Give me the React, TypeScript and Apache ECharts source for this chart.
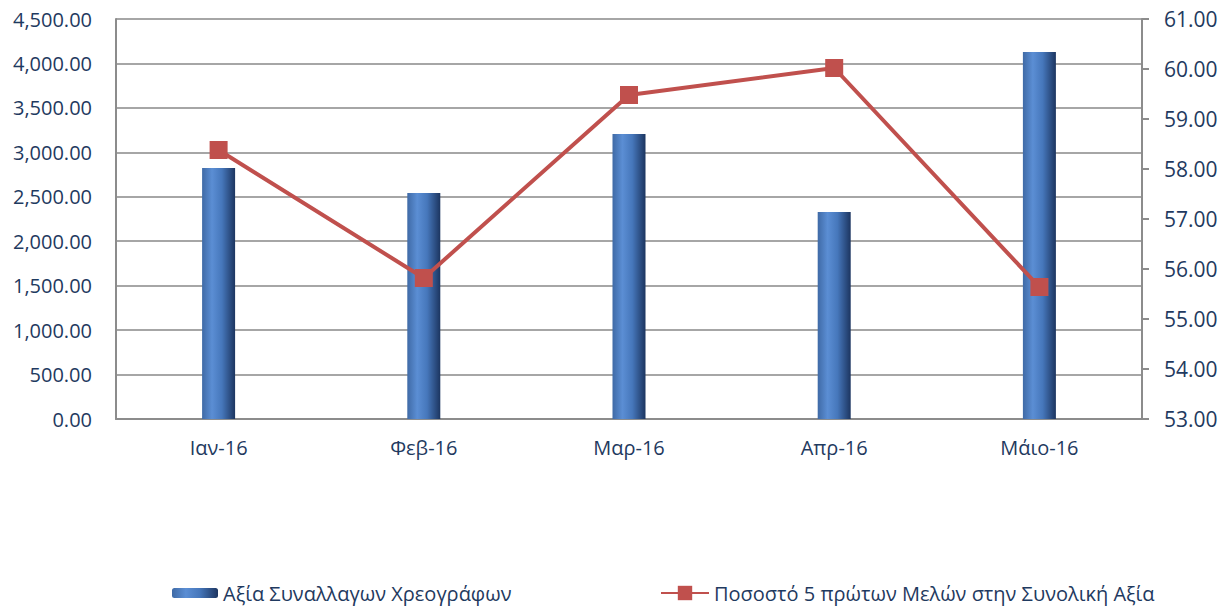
import React, { useEffect, useRef } from "react";
import * as echarts from "echarts";

const categories = ["Ιαν-16", "Φεβ-16", "Μαρ-16", "Απρ-16", "Μάιο-16"];
const barName = "Αξία Συναλλαγων Χρεογράφων";
const lineName = "Ποσοστό 5 πρώτων Μελών στην Συνολική Αξία";
const barValues = [2824, 2542, 3206, 2329, 4129];
const lineValues = [58.38, 55.82, 59.48, 60.02, 55.64];

const textColor = "#1F3A60";
const fontFamily = "'Open Sans', 'Noto Sans', sans-serif";

export default function App() {
  const ref = useRef<HTMLDivElement>(null);
  useEffect(() => {
    if (!ref.current) return;
    const chart = echarts.init(ref.current, undefined, { renderer: "svg" });
    const barGradient = new echarts.graphic.LinearGradient(0, 0, 1, 0, [
      { offset: 0, color: "#3f6aa6" },
      { offset: 0.3, color: "#5b8ed4" },
      { offset: 0.6, color: "#4677bb" },
      { offset: 1, color: "#1c3560" },
    ]);
    chart.setOption({
      animation: false,
      textStyle: { fontFamily },
      grid: { left: 116, right: 90, top: 19, bottom: 191, containLabel: false },
      legend: [
        {
          data: [barName],
          left: 167,
          top: 578,
          itemWidth: 46,
          itemHeight: 10,
          textStyle: { color: textColor, fontSize: 20, fontFamily },
        },
        {
          data: [lineName],
          left: 655,
          top: 578,
          itemWidth: 48,
          itemHeight: 18,
          textStyle: { color: textColor, fontSize: 20, fontFamily },
        },
      ],
      xAxis: {
        type: "category",
        data: categories,
        axisLine: { lineStyle: { color: "#8c8c8c", width: 2 } },
        axisTick: { show: false },
        axisLabel: { color: textColor, fontSize: 20, margin: 18 },
      },
      yAxis: [
        {
          type: "value",
          min: 0,
          max: 4500,
          interval: 500,
          axisLine: { show: true, lineStyle: { color: "#8c8c8c", width: 2 } },
          axisTick: { show: false },
          splitLine: { lineStyle: { color: "#a6a6a6", width: 2 } },
          axisLabel: {
            color: textColor,
            fontSize: 20,
            margin: 24,
            formatter: (v: number) =>
              v.toLocaleString("en-US", { minimumFractionDigits: 2, maximumFractionDigits: 2 }),
          },
        },
        {
          type: "value",
          min: 53,
          max: 61,
          interval: 1,
          position: "right",
          axisLine: { show: true, lineStyle: { color: "#8c8c8c", width: 2 } },
          axisTick: { show: true, length: 7, lineStyle: { color: "#8c8c8c", width: 2 } },
          splitLine: { show: false },
          axisLabel: {
            color: textColor,
            fontSize: 21,
            margin: 22,
            formatter: (v: number) => v.toFixed(2),
          },
        },
      ],
      series: [
        {
          name: barName,
          type: "bar",
          data: barValues,
          barWidth: 33,
          itemStyle: { color: barGradient },
        },
        {
          name: lineName,
          type: "line",
          yAxisIndex: 1,
          data: lineValues,
          symbol: "rect",
          symbolSize: 18,
          lineStyle: { color: "#C0504D", width: 4 },
          itemStyle: { color: "#C0504D" },
        },
      ],
    });
    return () => chart.dispose();
  }, []);
  return (
    <div
      ref={ref}
      style={{ position: "absolute", left: 0, top: 0, width: 1232, height: 610 }}
    />
  );
}
